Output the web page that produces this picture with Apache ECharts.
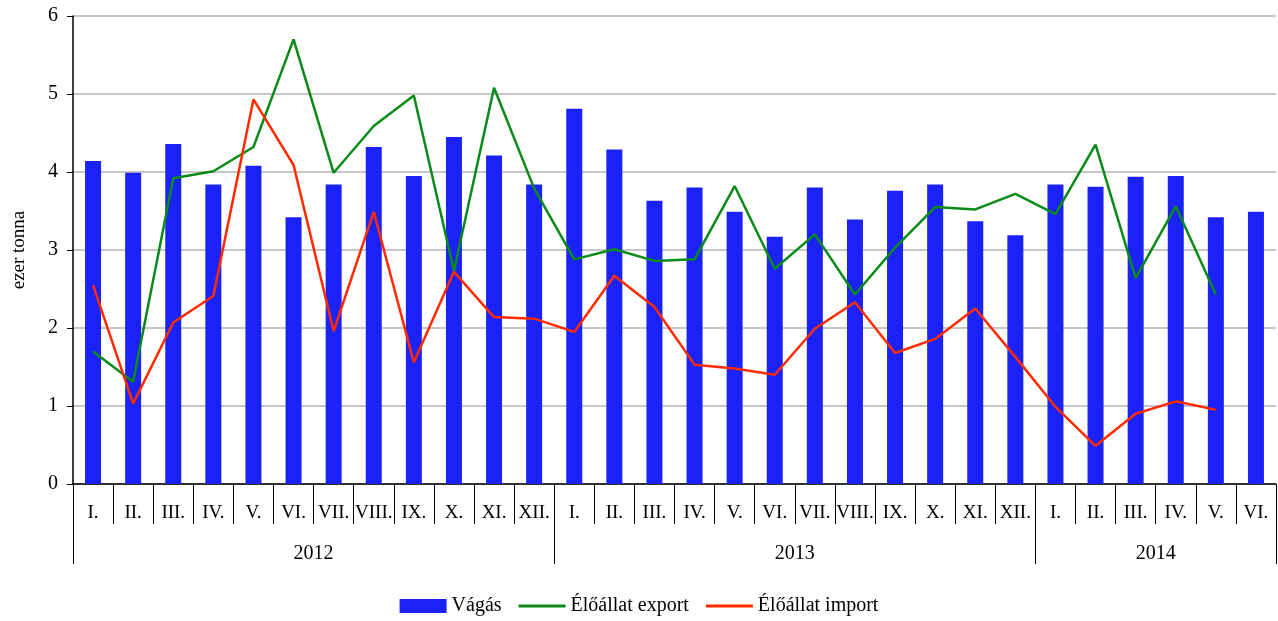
<!DOCTYPE html>
<html>
<head>
<meta charset="utf-8">
<script src="https://cdn.jsdelivr.net/npm/echarts@6/dist/echarts.min.js"></script>
<style>
  html, body { margin: 0; padding: 0; background: #fff; }
  #chart { width: 1278px; height: 621px; }
</style>
</head>
<body>
<div id="chart"></div>
<script>
var months = ['I.','II.','III.','IV.','V.','VI.','VII.','VIII.','IX.','X.','XI.','XII.',
    'I.','II.','III.','IV.','V.','VI.','VII.','VIII.','IX.','X.','XI.','XII.',
    'I.','II.','III.','IV.','V.','VI.'];
var years = ['2012', '2013', '2014'];
var yearTicks = [0, 12, 24, 30];      // boundaries (in months)
var yearLabelPos = [6, 18, 27];       // centre of each year block

var vagas = [4.14, 3.99, 4.36, 3.84, 4.08, 3.42, 3.84, 4.32, 3.95, 4.45, 4.21, 3.84,
    4.81, 4.29, 3.63, 3.80, 3.49, 3.17, 3.80, 3.39, 3.76, 3.84, 3.37, 3.19,
    3.84, 3.81, 3.94, 3.95, 3.42, 3.49];
var export_ = [1.70, 1.31, 3.92, 4.01, 4.32, 5.70, 3.99, 4.59, 4.98, 2.73, 5.08, 3.79,
    2.88, 3.01, 2.86, 2.88, 3.82, 2.76, 3.20, 2.43, 3.03, 3.55, 3.52, 3.72,
    3.46, 4.35, 2.64, 3.56, 2.43, null];
var import_ = [2.55, 1.03, 2.07, 2.41, 4.93, 4.09, 1.96, 3.49, 1.56, 2.72, 2.14, 2.12,
    1.95, 2.67, 2.27, 1.53, 1.48, 1.40, 1.99, 2.33, 1.68, 1.86, 2.25, 1.63,
    0.99, 0.49, 0.90, 1.06, 0.95, null];

var font = 'Liberation Serif';
var lineIcon = 'path://M0,0 H47 V3 H0 Z';
var chart = echarts.init(document.getElementById('chart'));
var option = {
    animation: false,
    color: ['#1a22f8', '#0a8a18', '#ff2a00'],
    grid: { left: 73, right: 2, top: 16, bottom: 137, outerBoundsMode: 'none' },
    legend: {
        bottom: 0,
        left: 'center',
        itemWidth: 47,
        itemHeight: 14,
        itemGap: 17,
        textStyle: { fontFamily: font, fontSize: 20, color: '#000' },
        data: [
            { name: 'Vágás', icon: 'rect' },
            { name: 'Élőállat export', icon: lineIcon },
            { name: 'Élőállat import', icon: lineIcon }
        ]
    },
    xAxis: [
        {
            type: 'category',
            data: months,
            boundaryGap: true,
            axisLine: { lineStyle: { color: '#000', width: 1.5 } },
            axisTick: { show: true, interval: 0, length: 40, lineStyle: { color: '#000' } },
            axisLabel: {
                interval: 0,
                margin: 20,
                fontFamily: font,
                fontSize: 19,
                color: '#000'
            }
        },
        {
            type: 'value',
            position: 'bottom',
            min: 0,
            max: 30,
            axisLine: { show: false },
            splitLine: { show: false },
            axisTick: {
                show: true,
                customValues: yearTicks,
                length: 80,
                lineStyle: { color: '#000' }
            },
            axisLabel: {
                customValues: yearLabelPos,
                margin: 60,
                fontFamily: font,
                fontSize: 20,
                color: '#000',
                formatter: function (v) {
                    var i = yearLabelPos.indexOf(v);
                    return i >= 0 ? years[i] : '';
                }
            }
        }
    ],
    yAxis: {
        type: 'value',
        min: 0,
        max: 6,
        interval: 1,
        name: 'ezer tonna',
        nameLocation: 'middle',
        nameRotate: 90,
        nameGap: 44,
        nameTextStyle: { fontFamily: font, fontSize: 19, color: '#000' },
        axisLine: { show: true, lineStyle: { color: '#000', width: 1.5 } },
        axisTick: { show: true, length: 6, lineStyle: { color: '#000' } },
        axisLabel: { fontFamily: font, fontSize: 20, color: '#000', margin: 15 },
        splitLine: { lineStyle: { color: '#b4b4b4', width: 1.5 } }
    },
    series: [
        {
            name: 'Vágás',
            type: 'bar',
            barWidth: 16,
            data: vagas
        },
        {
            name: 'Élőállat export',
            type: 'line',
            symbol: 'none',
            lineStyle: { width: 2.5 },
            data: export_
        },
        {
            name: 'Élőállat import',
            type: 'line',
            symbol: 'none',
            lineStyle: { width: 2.5 },
            data: import_
        }
    ]
};
chart.setOption(option);
</script>
</body>
</html>
